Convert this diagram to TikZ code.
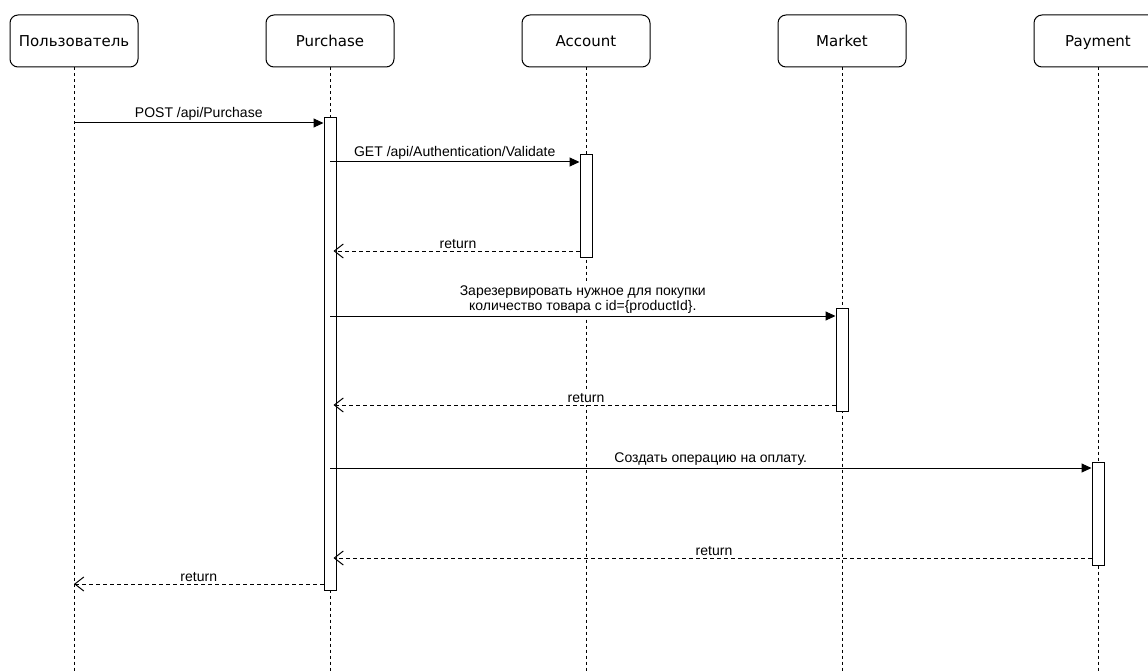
\documentclass[tikz,border=0pt]{standalone}
\usepackage{fontspec}
\setmainfont{Liberation Sans}
\newfontfamily\actorfont{DejaVu Sans}
\usetikzlibrary{arrows.meta}

\begin{document}
\begin{tikzpicture}[x=1pt,y=-1pt,
  actor/.style={draw,rounded corners=8pt,line width=1pt,minimum width=128pt,
    minimum height=52pt,text height=13pt,text depth=1pt,
    font=\actorfont\fontsize{15}{18}\selectfont},
  lifeline/.style={line width=1pt,dash pattern=on 3pt off 3pt},
  bar/.style={draw,fill=white,line width=1pt,minimum width=12pt,inner sep=0pt},
  call/.style={line width=1pt,-{Triangle[length=10pt,width=9pt]}},
  reply/.style={line width=1pt,dash pattern=on 4pt off 3pt,
    -{Straight Barb[length=9pt,width=14pt]}},
  msg/.style={font=\fontsize{14}{15}\selectfont,fill=white,inner sep=2pt,align=center}]
  \useasboundingbox (0,0) rectangle (1148,671);

  % participants
  \node[actor] (user) at (74,41) {Пользователь};
  \node[actor] (purchase) at (330,41) {Purchase};
  \node[actor] (account) at (586,41) {Account};
  \node[actor] (market) at (842,41) {Market};
  \node[actor] (payment) at (1098,41) {Payment};
  \coordinate (bottom) at (0,671);

  \foreach \who in {user,purchase,account,market,payment}
    \draw[lifeline] (\who.south) -- (\who.south |- bottom);

  % activations
  \node[bar, minimum height=472pt] (pbar) at (330,354) {};
  \node[bar, minimum height=102pt] (abar) at (586,206) {};
  \node[bar, minimum height=103pt] (mbar) at (842,359.5) {};
  \node[bar, minimum height=103pt] (paybar) at (1098,513.5) {};

  % message rows
  \coordinate (m1) at (0,123);
  \coordinate (m2) at (0,162);
  \coordinate (r2) at (0,251);
  \coordinate (m3) at (0,316);
  \coordinate (r3) at (0,405);
  \coordinate (m4) at (0,468);
  \coordinate (r4) at (0,558);
  \coordinate (r1) at (0,584);

  \draw[call] (user |- m1) -- node[msg,above] {POST /api/Purchase} (pbar.west |- m1);
  \draw[call] (pbar |- m2) -- node[msg,above] {GET /api/Authentication/Validate} (abar.west |- m2);
  \draw[reply,shorten >=-3pt] (abar.west |- r2) -- node[msg,above] {return} (pbar.east |- r2);
  \draw[call] (pbar |- m3) -- node[msg,above]
    {Зарезервировать нужное для покупки\\количество товара с id=\{productId\}.} (mbar.west |- m3);
  \draw[reply,shorten >=-3pt] (mbar.west |- r3) -- node[msg,above] {return} (pbar.east |- r3);
  \draw[call] (pbar |- m4) -- node[msg,above] {Создать операцию на оплату.} (paybar.west |- m4);
  \draw[reply,shorten >=-3pt] (paybar.west |- r4) -- node[msg,above] {return} (pbar.east |- r4);
  \draw[reply] (pbar.west |- r1) -- node[msg,above] {return} (user |- r1);
\end{tikzpicture}
\end{document}
